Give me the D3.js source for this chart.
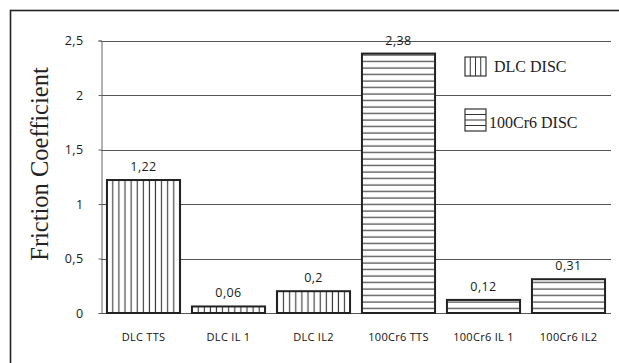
<!DOCTYPE html>
<html>
<head>
<meta charset="utf-8">
<script src="https://cdn.jsdelivr.net/npm/d3@7"></script>
<style>
  html, body { margin: 0; padding: 0; background: #fff; }
  svg { display: block; }
</style>
</head>
<body>
<svg id="chart" width="619" height="363"></svg>
<script>
// Friction coefficient per test configuration
const categories = ["DLC TTS", "DLC IL 1", "DLC IL2", "100Cr6 TTS", "100Cr6 IL 1", "100Cr6 IL2"];
const values = [1.22, 0.06, 0.2, 2.38, 0.12, 0.31];
const valueLabels = ["1,22", "0,06", "0,2", "2,38", "0,12", "0,31"];
const discs = ["DLC", "DLC", "DLC", "100Cr6", "100Cr6", "100Cr6"];
const yTicks = [0, 0.5, 1, 1.5, 2, 2.5];
const yTickLabels = ["0", "0,5", "1", "1,5", "2", "2,5"];
const legendItems = [
  { key: "DLC", label: "DLC DISC" },
  { key: "100Cr6", label: "100Cr6 DISC" }
];

const svg = d3.select("#chart");
const x0 = 101, x1 = 611;
const yBase = 313, yTop = 40.5;
const sans = "'Open Sans', sans-serif";
const serif = "'Liberation Serif', 'Times New Roman', serif";

// patterns: vertical hatch for DLC disc, horizontal hatch for 100Cr6 disc
const defs = svg.append("defs");
const pv = defs.append("pattern").attr("id", "hatch-DLC")
  .attr("patternUnits", "userSpaceOnUse").attr("width", 6.1).attr("height", 10);
pv.append("rect").attr("width", 6.1).attr("height", 10).attr("fill", "#fff");
pv.append("line").attr("x1", 3).attr("x2", 3).attr("y1", 0).attr("y2", 10)
  .attr("stroke", "#333").attr("stroke-width", 1.1);
const ph = defs.append("pattern").attr("id", "hatch-100Cr6")
  .attr("patternUnits", "userSpaceOnUse").attr("width", 10).attr("height", 6.5);
ph.append("rect").attr("width", 10).attr("height", 6.5).attr("fill", "#fff");
ph.append("line").attr("x1", 0).attr("x2", 10).attr("y1", 3).attr("y2", 3)
  .attr("stroke", "#333").attr("stroke-width", 1.1);

// outer frame
svg.append("rect").attr("x", 10.5).attr("y", 10.5).attr("width", 620).attr("height", 360)
  .attr("fill", "none").attr("stroke", "#222").attr("stroke-width", 1.6);

const x = d3.scaleBand().domain(categories).range([x0, x1]).paddingInner(0.14).paddingOuter(0.07);
const y = d3.scaleLinear().domain([0, 2.5]).range([yBase, yTop]);

// gridlines
svg.append("g").selectAll("line").data(yTicks.filter(d => d > 0)).join("line")
  .attr("x1", x0).attr("x2", x1)
  .attr("y1", d => Math.round(y(d)) + 0.5).attr("y2", d => Math.round(y(d)) + 0.5)
  .attr("stroke", "#555").attr("stroke-width", 1);

// y axis
const yAxis = d3.axisLeft(y).tickValues(yTicks).tickSize(3)
  .tickFormat((d, i) => yTickLabels[i]);
const gy = svg.append("g").attr("transform", `translate(${x0 + 0.5},0)`).call(yAxis);
gy.select(".domain").attr("stroke", "#666");
gy.selectAll(".tick line").attr("stroke", "#666");
gy.selectAll(".tick text").attr("x", -18)
  .attr("font-family", sans).attr("font-size", 12.5).attr("letter-spacing", 0.4)
  .attr("fill", "#1a1a1a");

// x axis baseline and labels
const xAxis = d3.axisBottom(x).tickSize(0).tickPadding(20);
const gx = svg.append("g").attr("transform", `translate(0,${yBase + 0.5})`).call(xAxis);
gx.select(".domain").attr("stroke", "#555").attr("d", `M${x0},0H${x1}`);
gx.selectAll(".tick text")
  .attr("font-family", sans).attr("font-size", 11)
  .attr("fill", "#111").attr("letter-spacing", 0.3);

// bars
svg.append("g").selectAll("rect").data(categories).join("rect")
  .attr("x", d => x(d))
  .attr("y", (d, i) => y(values[i]))
  .attr("width", x.bandwidth())
  .attr("height", (d, i) => yBase - y(values[i]))
  .attr("fill", (d, i) => `url(#hatch-${discs[i]})`)
  .attr("stroke", "#222").attr("stroke-width", 2);

// value labels
svg.append("g").selectAll("text").data(categories).join("text")
  .attr("x", d => x(d) + x.bandwidth() / 2)
  .attr("y", (d, i) => y(values[i]) - 9)
  .attr("text-anchor", "middle")
  .attr("font-family", sans).attr("font-size", 12.5).attr("letter-spacing", 0.4)
  .attr("fill", "#1a1a1a")
  .text((d, i) => valueLabels[i]);

// y axis title
svg.append("text")
  .attr("transform", "translate(48,164) rotate(-90)")
  .attr("text-anchor", "middle")
  .attr("font-family", serif)
  .attr("font-size", 24.5).attr("fill", "#222")
  .text("Friction Coefficient");

// legend
const legend = svg.append("g");
const boxes = [
  { bx: 465, by: 57, tx: 494, ty: 72 },
  { bx: 465, by: 109, tx: 489, ty: 128 }
];
legendItems.forEach((item, i) => {
  const b = boxes[i];
  const g = legend.append("g");
  const bw = 21, bh = i === 0 ? 19 : 22;
  g.append("rect").attr("x", b.bx).attr("y", b.by).attr("width", bw).attr("height", bh)
    .attr("fill", "#fff").attr("stroke", "#333").attr("stroke-width", 1.2);
  for (let k = 1; k < 4; k++) {
    if (item.key === "DLC") {
      const xx = b.bx + bw * k / 4;
      g.append("line").attr("x1", xx).attr("x2", xx).attr("y1", b.by).attr("y2", b.by + bh)
        .attr("stroke", "#333").attr("stroke-width", 1);
    } else {
      const yy = b.by + bh * k / 4;
      g.append("line").attr("x1", b.bx).attr("x2", b.bx + bw).attr("y1", yy).attr("y2", yy)
        .attr("stroke", "#333").attr("stroke-width", 1);
    }
  }
  g.append("text").attr("x", b.tx).attr("y", b.ty)
    .attr("font-family", serif)
    .attr("font-size", 16).attr("fill", "#222")
    .text(item.label);
});
</script>
</body>
</html>
